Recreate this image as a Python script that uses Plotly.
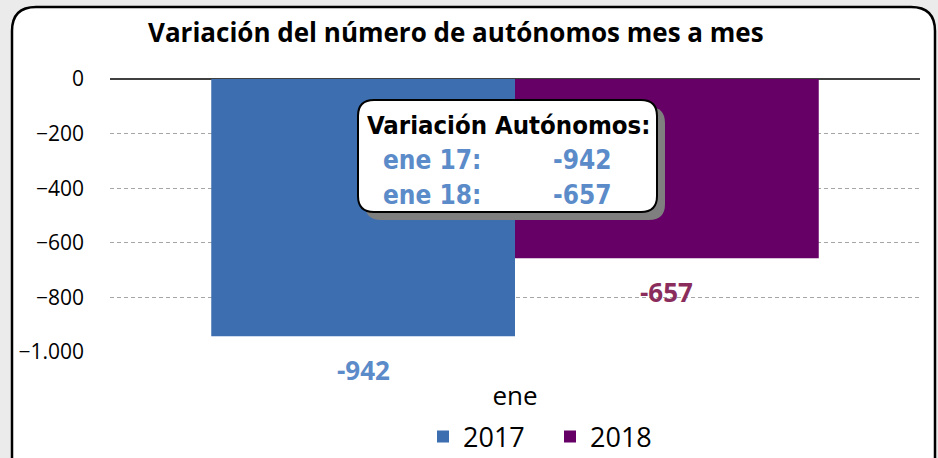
import plotly.graph_objects as go

# ---- data ----
categories = ["ene"]
series_names = ["2017", "2018"]
values_2017 = [-942]
values_2018 = [-657]
box_title = "Variación Autónomos:"
box_rows = [("ene 17:", "-942"), ("ene 18:", "-657")]
chart_title = "Variación del número de autónomos mes a mes"

W, H = 938, 458
ML, MR, MT, MB = 110, 18, 79, 106
PW, PH = W - ML - MR, H - MT - MB
BARGAP = 0.25

def px_x(X):
    return (X - ML) / PW

def px_y(Y):
    return (H - MB - Y) / PH

def rrect(x0, y0, x1, y1, r):
    # pixel coordinates -> paper path with rounded corners
    rx, ry = r / PW, r / PH
    a0, a1 = px_x(x0), px_x(x1)
    b0, b1 = px_y(y0), px_y(y1)
    return (f"M {a0+rx},{b0} L {a1-rx},{b0} Q {a1},{b0} {a1},{b0-ry} "
            f"L {a1},{b1+ry} Q {a1},{b1} {a1-rx},{b1} L {a0+rx},{b1} "
            f"Q {a0},{b1} {a0},{b1+ry} L {a0},{b0-ry} Q {a0},{b0} {a0+rx},{b0} Z")

blue = "#3c6eb0"
purple = "#660066"
lbl_blue = "#5b8bc9"
lbl_purple = "#8b2d5c"
FONT = "Open Sans, Liberation Sans, sans-serif"
NARROW = "DejaVu Sans Condensed, Liberation Sans Narrow, sans-serif"

fig = go.Figure()
fig.add_trace(go.Bar(x=categories, y=values_2017, name=series_names[0],
                     marker=dict(color=blue, line=dict(width=0))))
fig.add_trace(go.Bar(x=categories, y=values_2018, name=series_names[1],
                     marker=dict(color=purple, line=dict(width=0))))

bar_w = PW * (1 - BARGAP) / 2
annotations = []
for vals, col, sign in [(values_2017, lbl_blue, -1), (values_2018, lbl_purple, 1)]:
    for c, v in zip(categories, vals):
        annotations.append(dict(x=c, y=v, xref="x", yref="y", text=f"<b>{v}</b>",
                                showarrow=False, xshift=sign * bar_w / 2, yshift=-34,
                                xanchor="center", yanchor="middle",
                                font=dict(family=FONT, size=26, color=col)))

def pa(X, Y, text, size, color, family=FONT):
    return dict(x=px_x(X), y=px_y(Y), xref="paper", yref="paper", text=text,
                showarrow=False, xanchor="center", yanchor="middle",
                font=dict(family=family, size=size, color=color))

annotations.append(pa(456, 32, f"<b>{chart_title}</b>", 26, "#000000"))
annotations.append(pa(508, 125, f"<b>{box_title}</b>", 25.5, "#000000", NARROW))
for i, (lab, val) in enumerate(box_rows):
    annotations.append(pa(432, 160 + 35 * i, f"<b>{lab}</b>", 26, lbl_blue, NARROW))
    annotations.append(pa(582, 160 + 35 * i, f"<b>{val}</b>", 26, lbl_blue, NARROW))

shapes = [
    dict(type="path", xref="paper", yref="paper", path=rrect(12, 7, 935, 490, 24),
         fillcolor="#ffffff", line=dict(color="#000000", width=2.5), layer="below"),
    dict(type="path", xref="paper", yref="paper", path=rrect(365, 107, 665, 220, 16),
         fillcolor="#7f7f7f", line=dict(width=0), layer="above"),
    dict(type="path", xref="paper", yref="paper", path=rrect(358, 100, 657, 212, 16),
         fillcolor="#ffffff", line=dict(color="#000000", width=2), layer="above"),
]

fig.update_layout(
    width=W, height=H,
    margin=dict(l=ML, r=MR, t=MT, b=MB, pad=0, autoexpand=False),
    paper_bgcolor="#ebebeb", plot_bgcolor="rgba(0,0,0,0)",
    barmode="group", bargap=BARGAP, bargroupgap=0,
    separators=",.",
    showlegend=True,
    legend=dict(orientation="h", xref="container", yref="container",
                x=550 / W, xanchor="center", y=1 - 437 / H, yanchor="middle",
                entrywidth=82, entrywidthmode="pixels",
                font=dict(family=FONT, size=27, color="#000000"), bgcolor="rgba(0,0,0,0)",
                traceorder="normal"),
    xaxis=dict(showgrid=False, showline=False, ticks="", ticklabelstandoff=26,
               automargin=False,
               tickfont=dict(family=FONT, size=26, color="#000000")),
    yaxis=dict(range=[-1000, 0], tickvals=[0, -200, -400, -600, -800, -1000],
               tickformat=",d", showgrid=True, gridcolor="#a6a6a6", griddash="4px,3px",
               gridwidth=1, zeroline=True, zerolinecolor="#404040", zerolinewidth=1.5,
               showline=False, ticks="", ticklabelstandoff=25, automargin=False,
               tickfont=dict(family=FONT, size=21, color="#000000")),
    annotations=annotations,
    shapes=shapes,
)

fig.write_html("out.html", config={"displayModeBar": False},
               post_script="document.body.style.margin='0';document.body.style.overflow='hidden';")
